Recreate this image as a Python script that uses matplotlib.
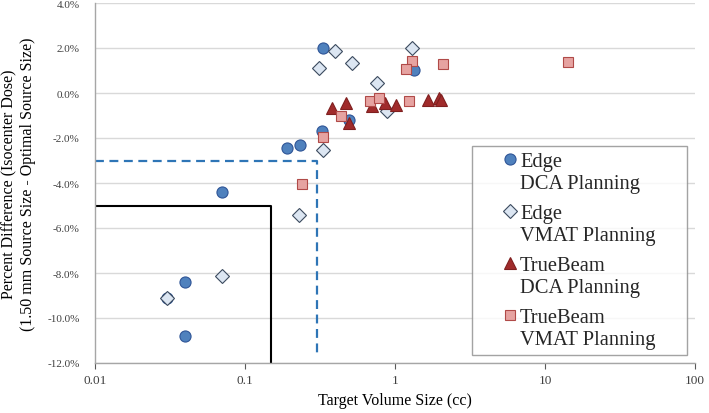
import matplotlib
matplotlib.use("Agg")
import matplotlib.pyplot as plt
from matplotlib.legend_handler import HandlerLine2D
from matplotlib.ticker import FuncFormatter, FixedLocator, NullLocator

plt.rcParams['font.family'] = ['Liberation Serif', 'DejaVu Serif']

# Edge, DCA planning
edge_dca_x = [0.333, 0.324, 0.191, 0.231, 1.33, 0.49, 0.0705, 0.04, 0.03, 0.04]
edge_dca_y = [1.99, -1.67, -2.46, -2.30, 1.04, -1.19, -4.39, -8.39, -9.10, -10.8]

# Edge, VMAT planning
edge_vmat_x = [0.313, 0.397, 0.513, 1.30, 0.76, 0.88, 0.333, 0.23, 0.0705, 0.0303]
edge_vmat_y = [1.10, 1.88, 1.33, 1.99, 0.44, -0.79, -2.52, -5.41, -8.12, -9.12]

# TrueBeam, DCA planning
tb_dca_x = [0.383, 0.468, 0.495, 0.70, 0.858, 1.02, 1.66, 1.96, 2.04]
tb_dca_y = [-0.67, -0.44, -1.33, -0.59, -0.44, -0.53, -0.30, -0.24, -0.30]

# TrueBeam, VMAT planning
tb_vmat_x = [1.30, 1.18, 2.09, 14.3, 0.436, 0.679, 0.787, 1.24, 0.333, 0.241]
tb_vmat_y = [1.41, 1.07, 1.29, 1.36, -1.04, -0.34, -0.22, -0.34, -1.97, -4.04]

# reference boxes
solid_x, solid_y = 0.15, -5.0
dash_x, dash_y = 0.3, -3.0

y_ticks = [4, 2, 0, -2, -4, -6, -8, -10, -12]
x_ticks = [0.01, 0.1, 1, 10, 100]
x_tick_labels = ["0.01", "0.1", "1", "10", "100"]

labels = ["Edge\nDCA Planning", "Edge\nVMAT Planning",
          "TrueBeam\nDCA Planning", "TrueBeam\nVMAT Planning"]


class TopHandler(HandlerLine2D):
    # marker sits at the right end of the handle, level with the first text line
    def create_artists(self, legend, orig_handle, xdescent, ydescent,
                       width, height, fontsize, trans):
        arts = super().create_artists(legend, orig_handle, xdescent, ydescent,
                                      width, height, fontsize, trans)
        for a in arts:
            n = len(a.get_xdata())
            a.set_xdata([width - 0.35 * fontsize] * n)
            a.set_ydata([y + 0.65 * fontsize for y in a.get_ydata()])
        return arts


fig = plt.figure(figsize=(7.09, 4.14), dpi=100)
ax = fig.add_axes([95 / 709, 50 / 414, 600 / 709, 360 / 414])

ax.set_xscale('log')
ax.set_xlim(0.01, 100)
ax.set_ylim(-12, 4)

for t in y_ticks:
    ax.axhline(t, color='#d9d9d9', lw=1.0, zorder=0)

# threshold lines
ax.plot([0.01, solid_x, solid_x], [solid_y, solid_y, -12], color='black', lw=1.5, zorder=1)
ax.plot([0.01, dash_x, dash_x], [dash_y, dash_y, -11.7], color='#2e75b6', lw=1.6,
        ls=(0, (4, 2.5)), zorder=1)

h1, = ax.plot(edge_dca_x, edge_dca_y, ls='none', marker='o', ms=8,
              mfc='#4f81bd', mec='#2f5597', mew=0.8, zorder=3)
h2, = ax.plot(edge_vmat_x, edge_vmat_y, ls='none', marker='D', ms=7,
              mfc='#dce6f2', mec='#3b4a5e', mew=0.8, zorder=4)
h3, = ax.plot(tb_dca_x, tb_dca_y, ls='none', marker='^', ms=8,
              mfc='#a02b2b', mec='#7f1f1f', mew=0.8, zorder=5)
h4, = ax.plot(tb_vmat_x, tb_vmat_y, ls='none', marker='s', ms=7,
              mfc='#e6a3a1', mec='#b04a48', mew=0.8, zorder=6)

ax.yaxis.set_major_locator(FixedLocator(y_ticks))
ax.yaxis.set_major_formatter(FuncFormatter(lambda v, p: "%.1f%%" % v))
ax.xaxis.set_major_locator(FixedLocator(x_ticks))
ax.xaxis.set_major_formatter(FuncFormatter(lambda v, p: x_tick_labels[x_ticks.index(v)] if v in x_ticks else ""))
ax.xaxis.set_minor_locator(NullLocator())

ax.tick_params(axis='both', colors='#595959', length=4, width=0.8)
ax.tick_params(axis='y', length=0, pad=11, labelsize=8)
ax.tick_params(axis='x', labelsize=9.5, pad=4)
for lab in ax.get_xticklabels() + ax.get_yticklabels():
    lab.set_color('#404040')

for s in ['top', 'right']:
    ax.spines[s].set_visible(False)
for s in ['left', 'bottom']:
    ax.spines[s].set_color('#a6a6a6')
    ax.spines[s].set_linewidth(1.0)

ax.set_xlabel("Target Volume Size (cc)", fontsize=11.5, labelpad=4)
ax.set_ylabel("Percent Difference (Isocenter Dose)\n(1.50 mm Source Size - Optimal Source Size)",
              fontsize=11.5, labelpad=8, linespacing=1.2)

leg = ax.legend([h1, h2, h3, h4], labels, loc='lower left',
                bbox_to_anchor=(0.628, 0.022, 0.358, 0.586), mode='expand',
                fontsize=14.8, frameon=True, fancybox=False, borderpad=0.3,
                labelspacing=0.55, handlelength=1.9, handletextpad=0.15,
                handler_map={plt.Line2D: TopHandler()}, borderaxespad=0)
leg.get_frame().set_edgecolor('#8c8c8c')
leg.get_frame().set_linewidth(1.0)
for t in leg.get_texts():
    t.set_linespacing(1.2)
    t.set_color('#262626')

fig.savefig("out.png", dpi=100)
